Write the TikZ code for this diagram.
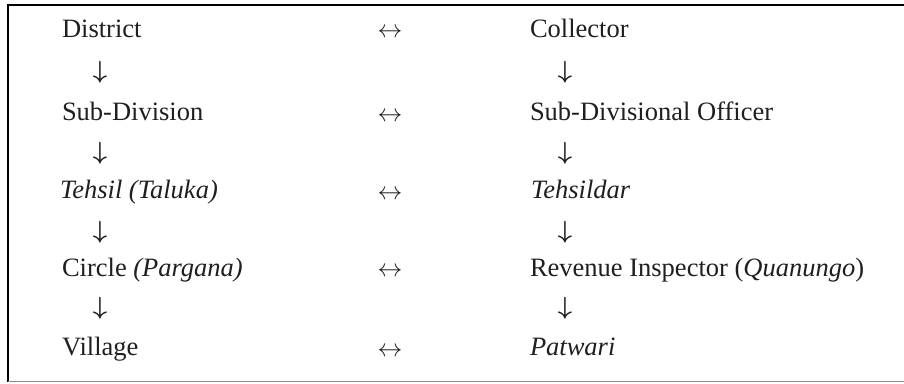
\documentclass[tikz,border=0pt]{standalone}
\usepackage{fontspec}
\setmainfont{Liberation Serif}
\begin{document}
\begin{tikzpicture}[x=1bp,y=-1bp,
  every node/.style={inner sep=0pt,outer sep=0pt,text=black!88,font=\fontsize{26.6}{30}\selectfont},
  lefttext/.style={anchor=base west},
  righttext/.style={anchor=base west},
  downarr/.style={anchor=center,font=\fontsize{26.6}{30}\selectfont\boldmath},
  bothway/.style={anchor=center}]
\useasboundingbox (0,0) rectangle (904,383);
\fill[white] (0,0) rectangle (904,383);
% frame
\draw[line width=2bp,black] (904,5) -- (8,5) -- (8,382);
\draw[line width=1.5bp,black!45] (8,381.5) -- (904,381.5);
% left column
\node[lefttext] (l1) at (62,37) {District};
\node[lefttext] (l2) at (62,120) {Sub-Division};
\node[lefttext] (l3) at (60,198) {\itshape Tehsil (Taluka)};
\node[lefttext] (l4) at (62,276) {Circle \textit{(Pargana)}};
\node[lefttext] (l5) at (62,355) {Village};
% left arrows
\node[downarr] (la1) at (100,72) {$\downarrow$};
\node[downarr] (la2) at (100,153) {$\downarrow$};
\node[downarr] (la3) at (100,232) {$\downarrow$};
\node[downarr] (la4) at (100,308) {$\downarrow$};
% middle
\node[bothway] (m1) at (390,33) {$\leftrightarrow$};
\node[bothway] (m2) at (390,117) {$\leftrightarrow$};
\node[bothway] (m3) at (390,195) {$\leftrightarrow$};
\node[bothway] (m4) at (390,272) {$\leftrightarrow$};
\node[bothway] (m5) at (390,352) {$\leftrightarrow$};
% right column
\node[righttext] (r1) at (530,37) {Collector};
\node[righttext] (r2) at (530,120) {Sub-Divisional Officer};
\node[righttext] (r3) at (531,198) {\itshape Tehsildar};
\node[righttext] (r4) at (530,276) {Revenue Inspector (\textit{Quanungo})};
\node[righttext] (r5) at (530,355) {\itshape Patwari};
% right arrows
\node[downarr] (ra1) at (565,72) {$\downarrow$};
\node[downarr] (ra2) at (565,153) {$\downarrow$};
\node[downarr] (ra3) at (565,232) {$\downarrow$};
\node[downarr] (ra4) at (565,308) {$\downarrow$};
\end{tikzpicture}
\end{document}
